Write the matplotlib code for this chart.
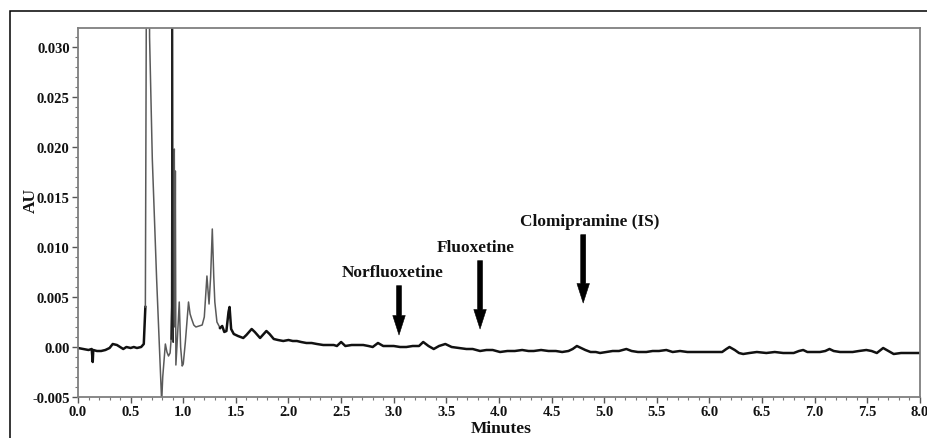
import matplotlib
matplotlib.use("Agg")
import matplotlib.pyplot as plt
from matplotlib.ticker import MultipleLocator, FixedLocator, FixedFormatter
from matplotlib.patches import Rectangle
import numpy as np

# ---- data ----
time_min = [
    0.00, 0.05, 0.10, 0.13, 0.14, 0.145, 0.18, 0.22, 0.26, 0.30, 0.33, 0.37, 0.40, 0.43, 0.46,
    0.50, 0.53, 0.56, 0.60, 0.625, 0.64, 0.648, 0.655, 0.672, 0.68, 0.706, 0.747, 0.795, 0.805,
    0.83, 0.845, 0.86, 0.875, 0.885, 0.89, 0.895, 0.900, 0.905, 0.910, 0.915, 0.920, 0.925,
    0.93, 0.945, 0.962, 0.975, 0.99, 1.00, 1.02, 1.05, 1.065, 1.08, 1.10, 1.12, 1.15, 1.18,
    1.20, 1.225, 1.245, 1.26, 1.276, 1.29, 1.30, 1.32, 1.35, 1.37, 1.39, 1.41, 1.43, 1.44,
    1.455, 1.48, 1.52, 1.57, 1.60, 1.65, 1.68, 1.73, 1.79, 1.82, 1.86, 1.90, 1.95, 2.00,
    2.04, 2.08, 2.12, 2.17, 2.22, 2.27, 2.33, 2.38, 2.43, 2.46, 2.50, 2.54, 2.60, 2.66,
    2.71, 2.76, 2.80, 2.85, 2.90, 2.95, 3.00, 3.06, 3.12, 3.18, 3.24, 3.28, 3.33, 3.38,
    3.43, 3.49, 3.55, 3.62, 3.69, 3.75, 3.82, 3.88, 3.94, 4.01, 4.08, 4.15, 4.22, 4.28,
    4.33, 4.40, 4.47, 4.54, 4.60, 4.66, 4.70, 4.74, 4.78, 4.82, 4.87, 4.92, 4.96, 5.02,
    5.08, 5.14, 5.21, 5.26, 5.32, 5.40, 5.46, 5.52, 5.59, 5.65, 5.72, 5.79, 5.85, 5.91,
    5.97, 6.05, 6.12, 6.16, 6.19, 6.24, 6.28, 6.32, 6.38, 6.45, 6.54, 6.62, 6.70, 6.77,
    6.80, 6.85, 6.89, 6.93, 6.98, 7.05, 7.10, 7.14, 7.18, 7.24, 7.30, 7.36, 7.42, 7.49,
    7.54, 7.59, 7.65, 7.70, 7.75, 7.82, 7.90, 7.97, 8.00,
]
absorbance_au = [
    -0.0001, -0.0002, -0.0003, -0.0002, -0.0015, -0.0003, -0.0004, -0.0004, -0.0003, -0.0001,
    0.0003, 0.0002, 0.0000, -0.0002, 0.0000, -0.0001, 0.0000, -0.0001, 0.0000, 0.0003,
    0.0040, 0.0300, 0.0600, 0.0600, 0.0310, 0.0188, 0.0068, -0.0055, -0.0030,
    0.0003, -0.0005, -0.0009, -0.0006, 0.0008, 0.0040, 0.0600, 0.0030, 0.0005, 0.0165,
    0.0198, 0.0020, 0.0176,
    -0.0018, 0.0010, 0.0045, 0.0000, -0.0019, -0.0017, 0.0005, 0.0045, 0.0033, 0.0028,
    0.0022, 0.0020, 0.0021, 0.0022,
    0.0030, 0.0071, 0.0043, 0.0070, 0.0118, 0.0070, 0.0045, 0.0025, 0.0019, 0.0021, 0.0015,
    0.0016, 0.0035, 0.0040,
    0.0018, 0.0013, 0.0011, 0.0009, 0.0012, 0.0018, 0.0015, 0.0009, 0.0016, 0.0013, 0.0008,
    0.0007, 0.0006, 0.0007,
    0.0006, 0.0006, 0.0005, 0.0004, 0.0004, 0.0003, 0.0002, 0.0002, 0.0002, 0.0001, 0.0005,
    0.0001, 0.0002, 0.0002,
    0.0002, 0.0001, 0.0000, 0.0004, 0.0001, 0.0001, 0.0001, 0.0000, 0.0000, 0.0001, 0.0001,
    0.0005, 0.0001, -0.0002,
    0.0001, 0.0003, 0.0000, -0.0001, -0.0002, -0.0002, -0.0004, -0.0003, -0.0003, -0.0005,
    -0.0004, -0.0004, -0.0003, -0.0004,
    -0.0004, -0.0003, -0.0004, -0.0004, -0.0005, -0.0004, -0.0002, 0.0001, -0.0001, -0.0003,
    -0.0005, -0.0005, -0.0006, -0.0005,
    -0.0004, -0.0004, -0.0002, -0.0004, -0.0005, -0.0005, -0.0004, -0.0004, -0.0003, -0.0005,
    -0.0004, -0.0005, -0.0005, -0.0005,
    -0.0005, -0.0005, -0.0005, -0.0002, 0.0000, -0.0003, -0.0006, -0.0007, -0.0006, -0.0005,
    -0.0006, -0.0005, -0.0006, -0.0006,
    -0.0006, -0.0004, -0.0003, -0.0005, -0.0005, -0.0005, -0.0004, -0.0002, -0.0004, -0.0005,
    -0.0005, -0.0005, -0.0004, -0.0003,
    -0.0004, -0.0006, -0.0001, -0.0004, -0.0007, -0.0006, -0.0006, -0.0006, -0.0006,
]

peak_labels = ["Norfluoxetine", "Fluoxetine", "Clomipramine (IS)"]
peak_times = [3.05, 3.82, 4.80]

x_ticks = [0.0, 0.5, 1.0, 1.5, 2.0, 2.5, 3.0, 3.5, 4.0, 4.5, 5.0, 5.5, 6.0, 6.5, 7.0, 7.5, 8.0]
x_tick_labels = ["0.0", "0.5", "1.0", "1.5", "2.0", "2.5", "3.0", "3.5", "4.0", "4.5",
                 "5.0", "5.5", "6.0", "6.5", "7.0", "7.5", "8.0"]
y_ticks = [-0.005, 0.0, 0.005, 0.010, 0.015, 0.020, 0.025, 0.030]
y_tick_labels = ["-0.005", "0.00", "0.005", "0.010", "0.015", "0.020", "0.025", "0.030"]

# ---- figure ----
plt.rcParams['font.family'] = ['Liberation Serif', 'DejaVu Serif']
fig = plt.figure(figsize=(9.28, 4.39), dpi=100)
fig.patch.set_facecolor("white")

# outer frame (partially cropped in the original)
fig.add_artist(Rectangle((10 / 928, -0.2), 1.2, (439 - 12) / 439 + 0.2,
                         transform=fig.transFigure, fill=False, edgecolor="black",
                         linewidth=1.1, clip_on=False))

ax = fig.add_axes([78 / 928, 41 / 439, 842 / 928, 369 / 439])

t = np.array(time_min)
a = np.array(absorbance_au)
m_left = t <= 0.64
m_mid = (t >= 0.64) & (t <= 1.35)
m_right = t >= 1.35
ax.plot(t[m_left], a[m_left], color="#111111", lw=1.8, solid_joinstyle="round")
ax.plot(t[m_mid], a[m_mid], color="#5a5a5a", lw=1.1)
ax.plot(t[m_right], a[m_right], color="#111111", lw=1.8, solid_joinstyle="round")
# sharp dark spike
spike = (t >= 0.885) & (t <= 0.905)
ax.plot(t[spike], a[spike], color="#222222", lw=1.1)

ax.set_xlim(0, 8.0)
ax.set_ylim(-0.005, 0.0319)

ax.xaxis.set_major_locator(FixedLocator(x_ticks))
ax.xaxis.set_major_formatter(FixedFormatter(x_tick_labels))
ax.xaxis.set_minor_locator(MultipleLocator(0.1))
ax.yaxis.set_major_locator(FixedLocator(y_ticks))
ax.yaxis.set_major_formatter(FixedFormatter(y_tick_labels))
ax.yaxis.set_minor_locator(MultipleLocator(0.001))

for s in ax.spines.values():
    s.set_color("#7f7f7f")
    s.set_linewidth(1.3)

ax.tick_params(which="major", direction="out", length=4, width=1.0, color="#555555",
               labelsize=10.5, pad=2)
ax.tick_params(which="minor", direction="out", length=2, width=0.8, color="#777777")
for lab in ax.get_xticklabels() + ax.get_yticklabels():
    lab.set_fontweight("bold")
    lab.set_color("#111111")

ax.set_xlabel("Minutes", fontsize=12.5, fontweight="bold", color="#111111")
ax.xaxis.set_label_coords(0.503, -0.062)
ax.set_ylabel("AU", fontsize=12.5, fontweight="bold", color="#111111")
ax.yaxis.set_label_coords(-0.047, 0.535)

# annotations with arrows
label_pos = [(2.99, 0.0075), (3.78, 0.0100), (4.865, 0.01263)]
arrow_top = [0.00613, 0.00863, 0.01123]
arrow_tip = [0.00120, 0.00180, 0.0044]
for name, pt, (lx, ly), top, tip in zip(peak_labels, peak_times, label_pos, arrow_top, arrow_tip):
    ax.text(lx, ly, name, ha="center", va="center", fontsize=12.4, fontweight="bold",
            color="#111111")
    ax.annotate("", xy=(pt, tip), xytext=(pt, top),
                arrowprops=dict(arrowstyle="simple,head_length=1.4,head_width=0.9,tail_width=0.36",
                                mutation_scale=10, lw=0.4, fc="black", ec="black",
                                shrinkA=0, shrinkB=0))

fig.savefig("out.png", dpi=100)
